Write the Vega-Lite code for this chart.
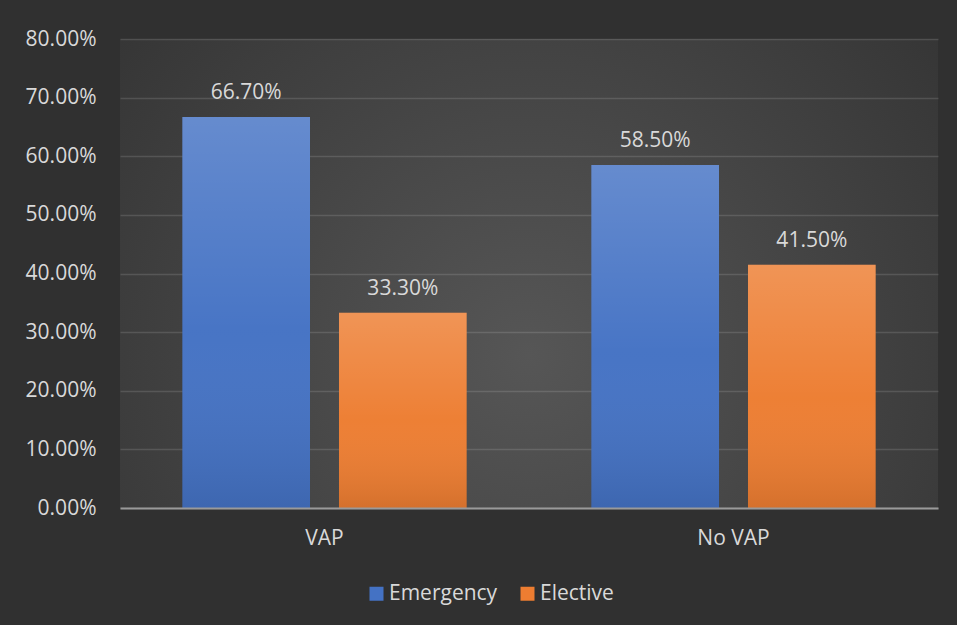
{
  "$schema": "https://vega.github.io/schema/vega-lite/v6.json",
  "width": 818,
  "height": 469,
  "autosize": {"type": "none"},
  "padding": {"left": 120, "top": 39, "right": 19, "bottom": 117},
  "background": "#303030",
  "view": {
    "stroke": null,
    "fill": {
      "gradient": "radial",
      "x1": 0.5, "y1": 0.6, "r1": 0,
      "x2": 0.5, "y2": 0.6, "r2": 0.75,
      "stops": [
        {"offset": 0, "color": "#565656"},
        {"offset": 1, "color": "#303030"}
      ]
    }
  },
  "data": {
    "values": [
      {"group": "VAP", "series": "Emergency", "value": 0.667},
      {"group": "VAP", "series": "Elective", "value": 0.333},
      {"group": "No VAP", "series": "Emergency", "value": 0.585},
      {"group": "No VAP", "series": "Elective", "value": 0.415}
    ]
  },
  "encoding": {
    "x": {
      "field": "group", "type": "nominal", "sort": ["VAP", "No VAP"],
      "scale": {"paddingInner": 0, "paddingOuter": 0},
      "axis": {
        "title": null, "labelAngle": 0, "ticks": false,
        "domainColor": "#9a9a9a", "domainWidth": 2,
        "labelPadding": 19, "labelFontSize": 21, "labelColor": "#d9d9d9",
        "labelBaseline": "top", "zindex": 1, "grid": false
      }
    },
    "xOffset": {
      "field": "series", "type": "nominal", "sort": ["Emergency", "Elective"],
      "scale": {"paddingInner": 0.185, "paddingOuter": 0.398}
    },
    "y": {
      "field": "value", "type": "quantitative",
      "scale": {"domain": [0, 0.8], "nice": false, "zero": true},
      "axis": {
        "title": null, "format": ".2%",
        "values": [0, 0.1, 0.2, 0.3, 0.4, 0.5, 0.6, 0.7, 0.8],
        "domain": false, "ticks": false, "labelPadding": 24,
        "labelFontSize": 21, "labelColor": "#d9d9d9",
        "grid": true, "gridColor": "#ffffff", "gridOpacity": 0.13, "gridWidth": 1.5
      }
    }
  },
  "layer": [
    {
      "mark": {"type": "bar"},
      "encoding": {
        "color": {
          "field": "series", "type": "nominal",
          "sort": ["Emergency", "Elective"],
          "scale": {"domain": ["Emergency", "Elective"], "range": ["#4472c4", "#ed7d31"]},
          "legend": {
            "title": null, "orient": "none", "direction": "horizontal",
            "legendX": 246, "legendY": 544,
            "symbolType": "square", "symbolSize": 196, "symbolStrokeWidth": 0,
            "symbolOpacity": 1,
            "labelFontSize": 21, "labelColor": "#d9d9d9", "labelOffset": 2,
            "columnPadding": 19
          }
        }
      }
    },
    {
      "mark": {
        "type": "bar",
        "color": {
          "gradient": "linear", "x1": 0, "y1": 0, "x2": 0, "y2": 1,
          "stops": [
            {"offset": 0, "color": "rgba(255,255,255,0.18)"},
            {"offset": 0.55, "color": "rgba(255,255,255,0.02)"},
            {"offset": 1, "color": "rgba(0,0,0,0.1)"}
          ]
        }
      }
    },
    {
      "mark": {"type": "text", "baseline": "alphabetic", "dy": -18, "fontSize": 21, "color": "#d9d9d9"},
      "encoding": {
        "text": {"field": "value", "type": "quantitative", "format": ".2%"}
      }
    }
  ],
  "config": {
    "font": "Open Sans"
  }
}
